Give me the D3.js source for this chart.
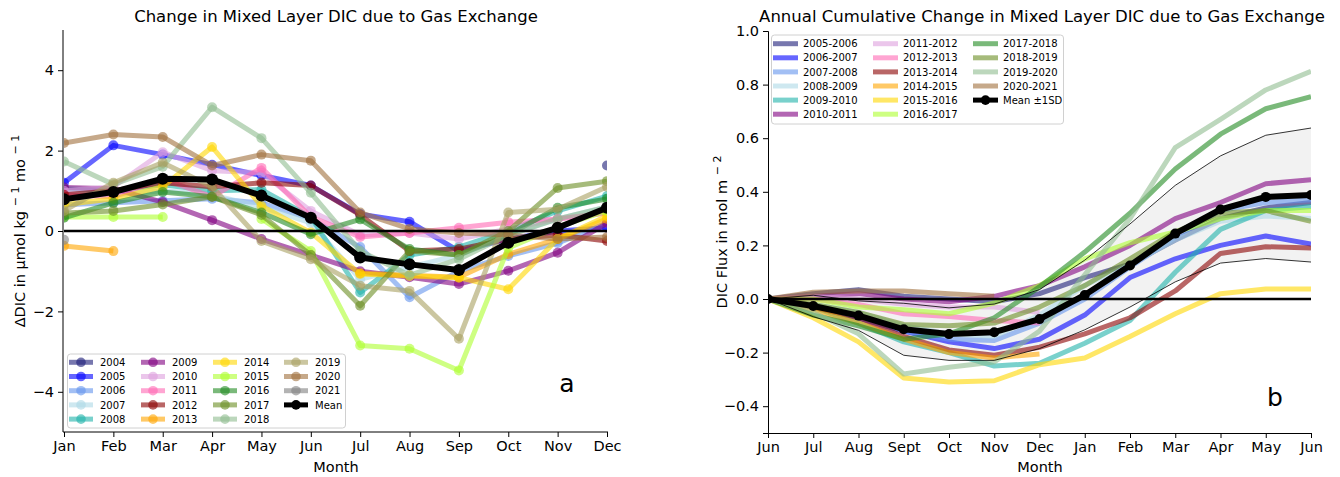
<!DOCTYPE html>
<html><head><meta charset="utf-8">
<script src="https://cdn.jsdelivr.net/npm/d3@7"></script>
<style>
body{margin:0;background:#fff;}
svg{font-family:"DejaVu Sans",sans-serif;}
</style></head>
<body>
<svg id="chart" width="1340" height="477"></svg>
<script>
// ---------------- DATA: panel a (monthly change, µmol kg-1 mo-1) ----------------
const N = null;
const monthsA = ["Jan","Feb","Mar","Apr","May","Jun","Jul","Aug","Sep","Oct","Nov","Dec"];
const yearsA = ["2004","2005","2006","2007","2008","2009","2010","2011","2012","2013","2014","2015","2016","2017","2018","2019","2020","2021"];
const a2004 = [N,N,N,N,N,N,N,N,N,N,N,1.63];
const a2005 = [1.20, 2.13, 1.90, 1.65, 1.38, 1.13, 0.42, 0.23, -0.50, -0.20, 0.00, 0.08];
const a2006 = [0.65, 0.70, 0.75, 0.80, 0.70, 0.30, -0.40, -1.65, -1.00, -0.62, -0.30, 0.20];
const a2007 = [0.90, 0.90, 1.00, 0.90, 0.60, 0.20, -1.20, -0.90, -0.60, -0.10, 0.30, 0.60];
const a2008 = [1.05, 1.00, 1.15, 1.00, 1.03, 0.35, -1.53, -0.60, -0.40, 0.00, 0.50, 0.87];
const a2009 = [1.08, 1.05, 0.72, 0.27, -0.20, -0.60, -1.00, -1.15, -1.32, -0.99, -0.54, 0.20];
const a2010 = [1.00, 1.10, 1.96, 1.50, 1.45, 0.50, -0.10, -0.05, -0.20, 0.05, 0.30, 0.45];
const a2011 = [0.90, 0.85, 1.30, 0.85, 1.57, 0.35, -0.15, -0.05, 0.08, 0.22, 0.30, 0.45];
const a2012 = [0.90, 1.00, 1.20, 1.10, 1.20, 1.13, 0.40, -0.50, -0.45, -0.20, -0.10, -0.25];
const a2013 = [-0.37, -0.50, N, N, N, N, -1.05, -1.10, -1.15, -0.58, -0.20, 0.30];
const a2014 = [0.65, 0.80, 1.10, 2.09, 0.62, -0.04, -1.07, -1.12, -1.16, -1.45, -0.20, 0.37];
const a2015 = [0.35, 0.35, 0.35, N, 0.30, -0.50, -2.85, -2.93, -3.47, -0.42, 0.10, 0.50];
const a2016 = [0.33, 0.70, 0.97, 0.85, 0.46, -0.08, 0.29, -0.45, -0.60, -0.10, 0.58, 0.80];
const a2017 = [0.45, 0.50, 0.66, 0.85, 0.40, -0.60, -1.86, -0.50, -0.60, 0.00, 1.07, 1.24];
const a2018 = [1.73, 1.16, 1.60, 3.08, 2.31, 0.95, -0.50, -1.10, -0.70, -0.10, 0.30, 0.60];
const a2019 = [0.50, 1.20, 1.70, 1.10, -0.25, -0.70, -1.36, -1.49, -2.68, 0.46, 0.54, 1.10];
const a2020 = [2.19, 2.40, 2.34, 1.63, 1.90, 1.75, 0.46, 0.05, -0.05, -0.10, -0.20, -0.15];
const a2021 = [-0.22, N, N, N, N, N, N, N, N, N, N, N];
const aMean = [0.79, 0.97, 1.30, 1.28, 0.88, 0.33, -0.66, -0.83, -0.97, -0.29, 0.08, 0.58];
const ticksA = [-4, -2, 0, 2, 4];

// ---------------- DATA: panel b (annual cumulative, mol m-2) ----------------
const monthsB = ["Jun","Jul","Aug","Sept","Oct","Nov","Dec","Jan","Feb","Mar","Apr","May","Jun"];
const seasonsB = ["2005-2006","2006-2007","2007-2008","2008-2009","2009-2010","2010-2011","2011-2012","2012-2013","2013-2014","2014-2015","2015-2016","2016-2017","2017-2018","2018-2019","2019-2020","2020-2021"];
const b0506 = [0, 0.02, 0.035, 0.01, 0.00, -0.01, 0.02, 0.08, 0.13, 0.22, 0.30, 0.34, 0.36];
const b0607 = [0, -0.03, -0.07, -0.12, -0.16, -0.185, -0.15, -0.06, 0.08, 0.15, 0.20, 0.235, 0.205];
const b0708 = [0, -0.03, -0.07, -0.12, -0.15, -0.155, -0.09, 0.00, 0.12, 0.23, 0.33, 0.36, 0.37];
const b0809 = [0, -0.02, -0.05, -0.10, -0.13, -0.14, -0.06, 0.05, 0.13, 0.22, 0.29, 0.31, 0.30];
const b0910 = [0, -0.03, -0.09, -0.16, -0.20, -0.25, -0.24, -0.165, -0.08, 0.10, 0.26, 0.33, 0.345];
const b1011 = [0, 0.01, 0.02, 0.00, -0.01, 0.01, 0.05, 0.12, 0.20, 0.30, 0.36, 0.43, 0.445];
const b1112 = [0, 0.01, 0.00, -0.02, -0.03, -0.03, -0.05, N, N, N, N, N, N];
const b1213 = [0, 0.00, -0.02, -0.055, -0.065, -0.08, -0.09, N, N, N, N, N, N];
const b1314 = [0, -0.03, -0.07, -0.14, -0.19, -0.21, -0.18, -0.13, -0.07, 0.03, 0.17, 0.195, 0.19];
const b1415 = [0, -0.04, -0.09, -0.15, -0.20, -0.22, -0.205, N, N, N, N, N, N];
const b1516 = [0, -0.07, -0.16, -0.295, -0.31, -0.305, -0.245, -0.22, -0.14, -0.055, 0.02, 0.037, 0.037];
const b1617 = [0, 0.00, -0.03, -0.04, -0.055, -0.015, 0.05, 0.15, 0.21, 0.25, 0.30, 0.33, 0.33];
const b1718 = [0, -0.06, -0.10, -0.15, -0.13, -0.07, 0.045, 0.175, 0.32, 0.485, 0.615, 0.71, 0.755];
const b1819 = [0, -0.02, -0.05, -0.095, -0.10, -0.09, -0.03, 0.05, 0.15, 0.25, 0.32, 0.33, 0.29];
const b1920 = [0, -0.05, -0.13, -0.28, -0.255, -0.235, -0.12, 0.09, 0.30, 0.565, 0.67, 0.78, 0.85];
const b2021 = [0, 0.025, 0.03, 0.03, 0.02, 0.01, N, N, N, N, N, N, N];
const bMean = [0, -0.026, -0.062, -0.113, -0.131, -0.124, -0.075, 0.015, 0.125, 0.244, 0.334, 0.381, 0.388];
const bSD   = [0, 0.04, 0.055, 0.097, 0.098, 0.105, 0.11, 0.13, 0.155, 0.18, 0.20, 0.23, 0.25];
const ticksB = [-0.4, -0.2, 0.0, 0.2, 0.4, 0.6, 0.8, 1.0];

// ---------------- styles ----------------
const colA = ["#1c1c78","#0000ff","#6495ed","#add8e6","#20b2aa","#800080","#dda0dd","#ff69b4","#8b0000","#ffa500","#ffd700","#adff2f","#228b22","#6b8e23","#8fbc8f","#a8a060","#a0703c","#808080"];
const colB = ["#1c1c78","#0000ff","#6495ed","#add8e6","#20b2aa","#800080","#dda0dd","#ff69b4","#8b0000","#ffa500","#ffd700","#adff2f","#228b22","#6b8e23","#8fbc8f","#a0703c"];
const seriesA = [a2004,a2005,a2006,a2007,a2008,a2009,a2010,a2011,a2012,a2013,a2014,a2015,a2016,a2017,a2018,a2019,a2020,a2021];
const seriesB = [b0506,b0607,b0708,b0809,b0910,b1011,b1112,b1213,b1314,b1415,b1516,b1617,b1718,b1819,b1920,b2021];

const svg = d3.select("#chart");
const ALPHA = 0.6;
const TICKFS = 14.5, LABFS = 14.5, TITFS = 16.5;

// ================= PANEL A =================
const xA = d3.scalePoint().domain(monthsA).range([64, 607]);
const yA = d3.scaleLinear().domain([-5, 5]).range([432, 30]);
const gA = svg.append("g");
svg.append("defs").append("clipPath").attr("id","clipA")
  .append("rect").attr("x",64).attr("y",28).attr("width",543).attr("height",406);

const plotA = gA.append("g").attr("clip-path","url(#clipA)");
const lineA = d3.line().defined(d => d.v != null).x(d => xA(d.m)).y(d => yA(d.v));

seriesA.forEach((s, i) => {
  const pts = s.map((v, j) => ({m: monthsA[j], v}));
  plotA.append("path").datum(pts).attr("d", lineA)
    .attr("fill","none").attr("stroke", colA[i]).attr("stroke-width",5)
    .attr("stroke-opacity", ALPHA).attr("stroke-linejoin","round");
  plotA.selectAll(null).data(pts.filter(p => p.v != null)).enter().append("circle")
    .attr("cx", d => xA(d.m)).attr("cy", d => yA(d.v)).attr("r", 5)
    .attr("fill", colA[i]).attr("fill-opacity", ALPHA);
});
plotA.append("line").attr("x1",64).attr("x2",607).attr("y1",yA(0)).attr("y2",yA(0))
  .attr("stroke","#000").attr("stroke-width",2.5);
const meanPtsA = aMean.map((v,j)=>({m:monthsA[j], v}));
plotA.append("path").datum(meanPtsA).attr("d", lineA).attr("fill","none")
  .attr("stroke","#000").attr("stroke-width",6).attr("stroke-linejoin","round");
plotA.selectAll(null).data(meanPtsA).enter().append("circle")
  .attr("cx", d => xA(d.m)).attr("cy", d => yA(d.v)).attr("r",6).attr("fill","#000");

const axAx = gA.append("g").attr("transform","translate(0,432)")
  .call(d3.axisBottom(xA).tickSizeOuter(0).tickSize(5).tickPadding(4));
const axAy = gA.append("g").attr("transform","translate(63,0)")
  .call(d3.axisLeft(yA).tickValues(ticksA).tickSizeOuter(0).tickSize(5).tickPadding(4)
    .tickFormat(d => d < 0 ? "\u2212" + Math.abs(d) : String(d)));
[axAx, axAy].forEach(a => {
  a.selectAll("text").attr("font-size",TICKFS).attr("fill","#000").attr("font-family","DejaVu Sans");
  a.selectAll("line").attr("stroke","#000");
  a.select(".domain").attr("stroke","#000").attr("stroke-width",1);
});
axAy.select(".domain").attr("d","M0,432V30");
axAx.select(".domain").attr("d","M63,0H608");

gA.append("text").attr("x",336).attr("y",22).attr("text-anchor","middle")
  .attr("font-size",TITFS).text("Change in Mixed Layer DIC due to Gas Exchange");
gA.append("text").attr("x",336).attr("y",472).attr("text-anchor","middle")
  .attr("font-size",LABFS).text("Month");
const ylabA = gA.append("text").attr("transform","translate(25,231) rotate(-90)")
  .attr("text-anchor","middle").attr("font-size",LABFS);
ylabA.append("tspan").text("\u0394DIC in \u00b5mol kg ");
ylabA.append("tspan").attr("font-size",11).attr("dy",-6).text("\u2212 1");
ylabA.append("tspan").attr("dy",6).text(" mo ");
ylabA.append("tspan").attr("font-size",11).attr("dy",-6).text("\u2212 1");
gA.append("text").attr("x",567).attr("y",392).attr("text-anchor","middle")
  .attr("font-size",25).text("a");

const legA = gA.append("g");
legA.append("rect").attr("x",67.5).attr("y",354).attr("width",278).attr("height",74)
  .attr("rx",3).attr("fill","#fff").attr("fill-opacity",0.85).attr("stroke","#d0d0d0");
const colXA = [69, 141, 213, 284];
const entriesA = yearsA.map((y,i)=>({label:y, color:colA[i], alpha:ALPHA}))
  .concat([{label:"Mean", color:"#000", alpha:1}]);
entriesA.forEach((e, k) => {
  const c = Math.floor(k/5), r = k%5;
  const x0 = colXA[c], yy = 362.3 + r*14.2;
  legA.append("line").attr("x1",x0).attr("x2",x0+24).attr("y1",yy).attr("y2",yy)
    .attr("stroke",e.color).attr("stroke-width",5).attr("stroke-opacity",e.alpha);
  legA.append("circle").attr("cx",x0+12).attr("cy",yy).attr("r",4.8)
    .attr("fill",e.color).attr("fill-opacity",e.alpha);
  legA.append("text").attr("x",x0+31).attr("y",yy+3.6).attr("font-size",10).text(e.label);
});

// ================= PANEL B =================
const xB = d3.scaleLinear().domain([0, 12]).range([768, 1311]);
const yB = d3.scaleLinear().domain([-0.5, 1.0]).range([433, 31]);
const gB = svg.append("g");
svg.select("defs").append("clipPath").attr("id","clipB")
  .append("rect").attr("x",768).attr("y",29).attr("width",543).attr("height",406);
const plotB = gB.append("g").attr("clip-path","url(#clipB)");

const band = d3.area().x((d,i)=>xB(i)).y0((d,i)=>yB(bMean[i]-bSD[i])).y1((d,i)=>yB(bMean[i]+bSD[i]));
plotB.append("path").datum(bMean).attr("d",band).attr("fill","#f2f2f2");

const lineB = d3.line().defined(d => d != null).x((d,i)=>xB(i)).y(d=>yB(d));
seriesB.forEach((s,i)=>{
  plotB.append("path").datum(s).attr("d",lineB).attr("fill","none")
    .attr("stroke",colB[i]).attr("stroke-width",5).attr("stroke-opacity",ALPHA)
    .attr("stroke-linejoin","round");
});
const sdUp = bMean.map((m,i)=>m+bSD[i]);
const sdLo = bMean.map((m,i)=>m-bSD[i]);
[sdUp, sdLo].forEach(s=>{
  plotB.append("path").datum(s).attr("d",lineB).attr("fill","none")
    .attr("stroke","#000").attr("stroke-width",0.8);
});
plotB.append("line").attr("x1",768).attr("x2",1311).attr("y1",yB(0)).attr("y2",yB(0))
  .attr("stroke","#000").attr("stroke-width",2.5);
plotB.append("path").datum(bMean).attr("d",lineB).attr("fill","none")
  .attr("stroke","#000").attr("stroke-width",6).attr("stroke-linejoin","round");
plotB.selectAll(null).data(bMean).enter().append("circle")
  .attr("cx",(d,i)=>xB(i)).attr("cy",d=>yB(d)).attr("r",5).attr("fill","#000");

const axBx = gB.append("g").attr("transform","translate(0,433)")
  .call(d3.axisBottom(xB).tickValues(d3.range(13)).tickFormat(i=>monthsB[i])
    .tickSizeOuter(0).tickSize(5).tickPadding(4));
const axBy = gB.append("g").attr("transform","translate(768,0)")
  .call(d3.axisLeft(yB).tickValues(ticksB).tickFormat(d3.format(".1f"))
    .tickSizeOuter(0).tickSize(5).tickPadding(4));
[axBx, axBy].forEach(a => {
  a.selectAll("text").attr("font-size",TICKFS).attr("fill","#000").attr("font-family","DejaVu Sans");
  a.selectAll("line").attr("stroke","#000");
  a.select(".domain").attr("stroke","#000").attr("stroke-width",1);
});

gB.append("text").attr("x",1042).attr("y",22).attr("text-anchor","middle")
  .attr("font-size",TITFS).text("Annual Cumulative Change in Mixed Layer DIC due to Gas Exchange");
gB.append("text").attr("x",1040).attr("y",472).attr("text-anchor","middle")
  .attr("font-size",LABFS).text("Month");
const ylabB = gB.append("text").attr("transform","translate(727,232) rotate(-90)")
  .attr("text-anchor","middle").attr("font-size",LABFS);
ylabB.append("tspan").text("DIC Flux in mol m ");
ylabB.append("tspan").attr("font-size",11).attr("dy",-6).text("\u2212 2");
gB.append("text").attr("x",1275).attr("y",406).attr("text-anchor","middle")
  .attr("font-size",25).text("b");

const legB = gB.append("g");
legB.append("rect").attr("x",771.5).attr("y",35).attr("width",292).attr("height",89)
  .attr("rx",3).attr("fill","#fff").attr("fill-opacity",0.85).attr("stroke","#d0d0d0");
const colXB = [773, 873, 973];
const entriesB = seasonsB.map((s,i)=>({label:s, color:colB[i], alpha:ALPHA, mk:false}))
  .concat([{label:"Mean \u00b11SD", color:"#000", alpha:1, mk:true}]);
entriesB.forEach((e,k)=>{
  const c = Math.floor(k/6), r = k%6;
  const x0 = colXB[c], yy = 43.7 + r*14.1;
  legB.append("line").attr("x1",x0).attr("x2",x0+25).attr("y1",yy).attr("y2",yy)
    .attr("stroke",e.color).attr("stroke-width",5).attr("stroke-opacity",e.alpha);
  if (e.mk) legB.append("circle").attr("cx",x0+12.5).attr("cy",yy).attr("r",4.8).attr("fill","#000");
  legB.append("text").attr("x",x0+30).attr("y",yy+3.6).attr("font-size",10).text(e.label);
});
</script>
</body></html>
